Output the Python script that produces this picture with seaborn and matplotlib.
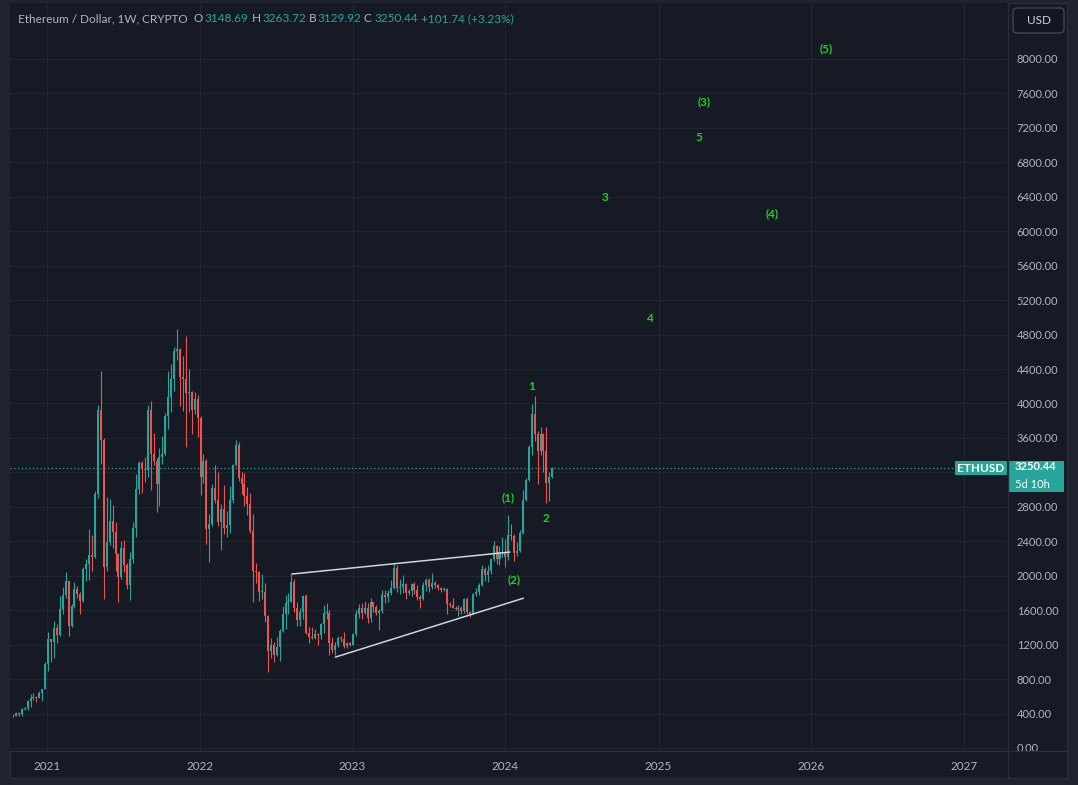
import numpy as np
import pandas as pd
import seaborn as sns
import matplotlib.pyplot as plt
import matplotlib.dates as mdates
from matplotlib.patches import Rectangle, FancyBboxPatch
from matplotlib.lines import Line2D
from matplotlib.transforms import IdentityTransform

# weekly ETH/USD candles, first week starting 2020-10-12
first_open = 366.0
closes = [
    # 2020
    377, 410, 396, 455, 460, 550, 575, 595, 585, 640, 685, 975,
    # 2021
    1260, 1230, 1390, 1315, 1610, 1780, 1935, 1420, 1650, 1850, 1785, 1710, 2075,
    2140, 2240, 2215, 2950, 3920, 3580, 2100, 2390, 2630, 2510, 2250, 1980, 2320,
    2130, 1895, 2190, 2560, 3010, 3310, 3240, 3225, 3930, 3410, 3330, 3060, 3380,
    3410, 3850, 4080, 4290, 4610, 4630, 4310, 4290, 4120, 4130, 3920, 4050, 3830,
    # 2022
    3150, 3330, 2540, 2600, 3020, 2880, 2620, 2780, 2550, 2590, 2880, 3290, 3520,
    3140, 3060, 2920, 2830, 2520, 2060, 2040, 1810, 1810, 1530, 1130, 1200, 1075,
    1170, 1360, 1550, 1680, 1700, 1930, 1620, 1490, 1575, 1760, 1340, 1290, 1280,
    1320, 1310, 1440, 1570, 1570, 1220, 1140, 1200, 1280, 1265, 1185, 1220, 1200,
    # 2023
    1320, 1550, 1630, 1570, 1630, 1515, 1690, 1640, 1565, 1590, 1780, 1750, 1805,
    1860, 2090, 1860, 1870, 1900, 1800, 1820, 1905, 1840, 1750, 1725, 1890, 1955,
    1870, 1920, 1890, 1860, 1830, 1850, 1670, 1655, 1630, 1610, 1620, 1595, 1730,
    1580, 1555, 1790, 1810, 1890, 2080, 2010, 2060, 2190, 2350, 2200, 2270, 2280,
    # 2024
    2220, 2470, 2460, 2260, 2290, 2500, 2880, 3110, 3490, 3880, 3640, 3450, 3650,
    3450, 3080, 3148.69, 3250.44,
]
highs = [
    395, 420, 418, 465, 475, 560, 622, 637, 600, 667, 690, 1000,
    1350, 1265, 1475, 1440, 1770, 1870, 2040, 1940, 1670, 1930, 1880, 1810, 2100,
    2200, 2540, 2470, 2980, 3980, 4380, 3600, 2910, 2890, 2820, 2620, 2260, 2400,
    2410, 2150, 2270, 2620, 3180, 3330, 3335, 3380, 3980, 4030, 3660, 3370, 3480,
    3620, 3890, 4375, 4460, 4660, 4870, 4650, 4550, 4780, 4400, 4150, 4130, 4100,
    3850, 3410, 3360, 2720, 3060, 3280, 3200, 2830, 3050, 2750, 3040, 3300, 3580,
    3550, 3200, 3190, 3030, 2960, 2720, 2150, 2060, 2020, 1920, 1540, 1280, 1230,
    1290, 1380, 1650, 1780, 1800, 2030, 1960, 1700, 1620, 1780, 1790, 1400, 1400,
    1380, 1340, 1450, 1660, 1680, 1600, 1290, 1230, 1300, 1300, 1350, 1230, 1230,
    1340, 1600, 1670, 1680, 1710, 1680, 1740, 1700, 1660, 1610, 1840, 1840, 1840,
    1950, 2140, 2130, 1960, 2010, 1920, 1850, 1920, 1930, 1890, 1780, 1930, 1970,
    1970, 2030, 1940, 1900, 1870, 1870, 1860, 1700, 1740, 1650, 1660, 1650, 1740,
    1750, 1590, 1800, 1860, 1910, 2130, 2100, 2130, 2200, 2400, 2360, 2340, 2450,
    2430, 2710, 2600, 2480, 2390, 2530, 2990, 3130, 3520, 3990, 4090, 3680, 3730,
    3660, 3730, 3200, 3263.72,
]
lows = [
    362, 370, 370, 375, 437, 445, 480, 555, 530, 580, 550, 680,
    890, 1000, 1040, 1220, 1300, 1560, 1740, 1300, 1410, 1620, 1740, 1550, 1700,
    1940, 1950, 2060, 2210, 2900, 3300, 1730, 2050, 2360, 2320, 2050, 1700, 1960,
    2040, 1850, 1720, 2150, 2450, 2950, 2960, 3090, 3150, 3000, 3290, 2740, 2810,
    3300, 3400, 3700, 3900, 4150, 4500, 3970, 3910, 3500, 3900, 3640, 3880, 3610,
    2940, 3080, 2370, 2160, 2580, 2850, 2580, 2300, 2480, 2450, 2500, 2850, 3270,
    3100, 2950, 2810, 2710, 2500, 1700, 1910, 1710, 1730, 1460, 880, 1050, 1000,
    1070, 1010, 1350, 1380, 1550, 1690, 1580, 1420, 1420, 1500, 1320, 1220, 1270,
    1270, 1190, 1270, 1340, 1500, 1075, 1100, 1080, 1170, 1230, 1160, 1165, 1180,
    1190, 1300, 1510, 1500, 1560, 1450, 1460, 1580, 1540, 1370, 1570, 1680, 1690,
    1780, 1850, 1810, 1790, 1800, 1730, 1780, 1770, 1790, 1720, 1630, 1720, 1820,
    1810, 1850, 1860, 1830, 1810, 1820, 1550, 1640, 1620, 1600, 1530, 1560, 1570,
    1560, 1520, 1550, 1770, 1780, 1880, 1940, 1930, 2020, 2170, 2140, 2130, 2220,
    2100, 2180, 2410, 2170, 2230, 2280, 2480, 2870, 3100, 3400, 3570, 3060, 3400,
    3200, 2850, 2870, 3129.92,
]
assert len(closes) == len(highs) == len(lows)

# Elliott wave labels
wave_labels = ['(5)', '(3)', '5', '3', '(4)', '4', '1', '(1)', '2', '(2)']
wave_dates = ['2026-02-06', '2025-04-20', '2025-04-08', '2024-08-27', '2025-09-29',
              '2024-12-10', '2024-03-05', '2024-01-08', '2024-04-08', '2024-01-22']
wave_prices = [8116, 7501, 7083, 6386, 6200, 4981, 4192, 2903, 2659, 1951]

# wedge trendlines: (start date, start price, end date, end price)
trend_lines = [
    ('2022-08-10', 2020, '2024-01-12', 2275),
    ('2022-11-21', 1055, '2024-02-13', 1739),
]

year_ticks = [2021, 2022, 2023, 2024, 2025, 2026, 2027]
price_ticks = list(range(0, 8001, 400))
hidden_tick = 3200  # covered by the last-price tag
last_price = 3250.44

BG = '#161a25'
FRAME = '#1f232e'
LINE = '#2a2e39'
GRID = '#222631'
TXT = '#b2b5be'
UP = '#26a69a'
DOWN = '#ef5350'
WAVE = '#1fd11f'

sns.set_theme(style='dark')
plt.rcParams['font.family'] = ['Lato', 'DejaVu Sans']

W, H = 1078, 785
fig = plt.figure(figsize=(W / 100, H / 100), dpi=100, facecolor=FRAME)
P = IdentityTransform()

fig.patches.append(Rectangle((10, H - 778), 1057, 775, transform=P,
                             facecolor=BG, edgecolor=LINE, lw=1, zorder=-5))

ax = fig.add_axes([10 / W, 1 - 751 / H, 997 / W, 748 / H])
ax.set_facecolor(BG)

opens = [first_open] + closes[:-1]
dates = pd.date_range('2020-10-12', periods=len(closes), freq='7D')
df = pd.DataFrame({'date': dates, 'open': opens, 'high': highs,
                   'low': lows, 'close': closes})
df['x'] = mdates.date2num(df['date'])
df['up'] = df['close'] >= df['open']
df['color'] = np.where(df['up'], UP, DOWN)
df['body_lo'] = df[['open', 'close']].min(axis=1)
df['body_h'] = (df['close'] - df['open']).abs().clip(lower=10)

ax.vlines(df['x'], df['low'], df['high'], colors=df['color'], lw=0.8, zorder=3)
ax.bar(df['x'], df['body_h'], bottom=df['body_lo'], width=4.8,
       color=df['color'], lw=0, zorder=3)

for d0, p0, d1, p1 in trend_lines:
    sns.lineplot(x=mdates.date2num(pd.to_datetime([d0, d1])), y=[p0, p1], ax=ax,
                 color='#d1d4dc', lw=1.1, zorder=4)

for lab, d, p in zip(wave_labels, wave_dates, wave_prices):
    ax.text(mdates.date2num(pd.Timestamp(d)), p, lab, ha='center', va='center',
            color=WAVE, fontsize=8.5, fontweight='bold', zorder=5)

ax.axhline(last_price, xmax=(955 - 10) / 997, color=UP, lw=0.9,
           ls=(0, (1, 2)), zorder=2)

ax.set_xlim(mdates.date2num(pd.Timestamp('2020-10-05')),
            mdates.date2num(pd.Timestamp('2027-04-13')))
ax.set_ylim(-35, 8650)
ax.set_xticks(mdates.date2num([pd.Timestamp(f'{y}-01-01') for y in year_ticks]))
ax.set_xticklabels([str(y) for y in year_ticks])
ax.set_yticks(price_ticks)
ax.set_yticklabels(['' if v == hidden_tick else f'{v:.2f}' for v in price_ticks])
ax.yaxis.tick_right()
ax.tick_params(axis='y', length=0, pad=7, labelsize=8, labelcolor=TXT)
ax.tick_params(axis='x', length=0, pad=7, labelsize=8.5, labelcolor=TXT)
ax.grid(True, color=GRID, lw=0.8)
ax.set_axisbelow(True)
ax.set_xlabel('')
ax.set_ylabel('')
for s in ax.spines.values():
    s.set_visible(False)

# axis separators
fig.add_artist(Line2D([1007.5, 1007.5], [H - 3, H - 778], transform=P, color=LINE, lw=1))
fig.add_artist(Line2D([10, 1067], [H - 751, H - 751], transform=P, color=LINE, lw=1))

# header
hdr = [(18, 'Ethereum / Dollar, 1W, CRYPTO', TXT), (194, 'O', TXT), (204, '3148.69', UP),
       (252, 'H', TXT), (262, '3263.72', UP), (309, 'B', TXT), (317, '3129.92', UP),
       (364, 'C', TXT), (374, '3250.44', UP), (421, '+101.74 (+3.23%)', UP)]
for x, s, c in hdr:
    fig.text(x, H - 19, s, transform=P, color=c, fontsize=8.5, ha='left', va='center')

# USD box
fig.patches.append(FancyBboxPatch((1013, H - 33), 51, 25, transform=P,
                                  boxstyle='round,pad=0,rounding_size=4',
                                  facecolor='#131722', edgecolor='#434651', lw=1))
fig.text(1038.5, H - 21, 'USD', transform=P, color='#d1d4dc', fontsize=8.5,
         ha='center', va='center')

# last price labels
fig.patches.append(Rectangle((955, H - 475), 52, 14, transform=P, facecolor=UP, lw=0))
fig.text(981, H - 468, 'ETHUSD', transform=P, color='white', fontsize=8.5,
         fontweight='bold', ha='center', va='center')
fig.patches.append(Rectangle((1008, H - 492), 56, 31, transform=P, facecolor=UP, lw=0))
fig.text(1015, H - 467, '3250.44', transform=P, color='white', fontsize=8,
         fontweight='bold', ha='left', va='center')
fig.text(1015, H - 485, '5d 10h', transform=P, color='white', fontsize=8,
         ha='left', va='center')

fig.savefig('out.png', dpi=100, facecolor=fig.get_facecolor())
